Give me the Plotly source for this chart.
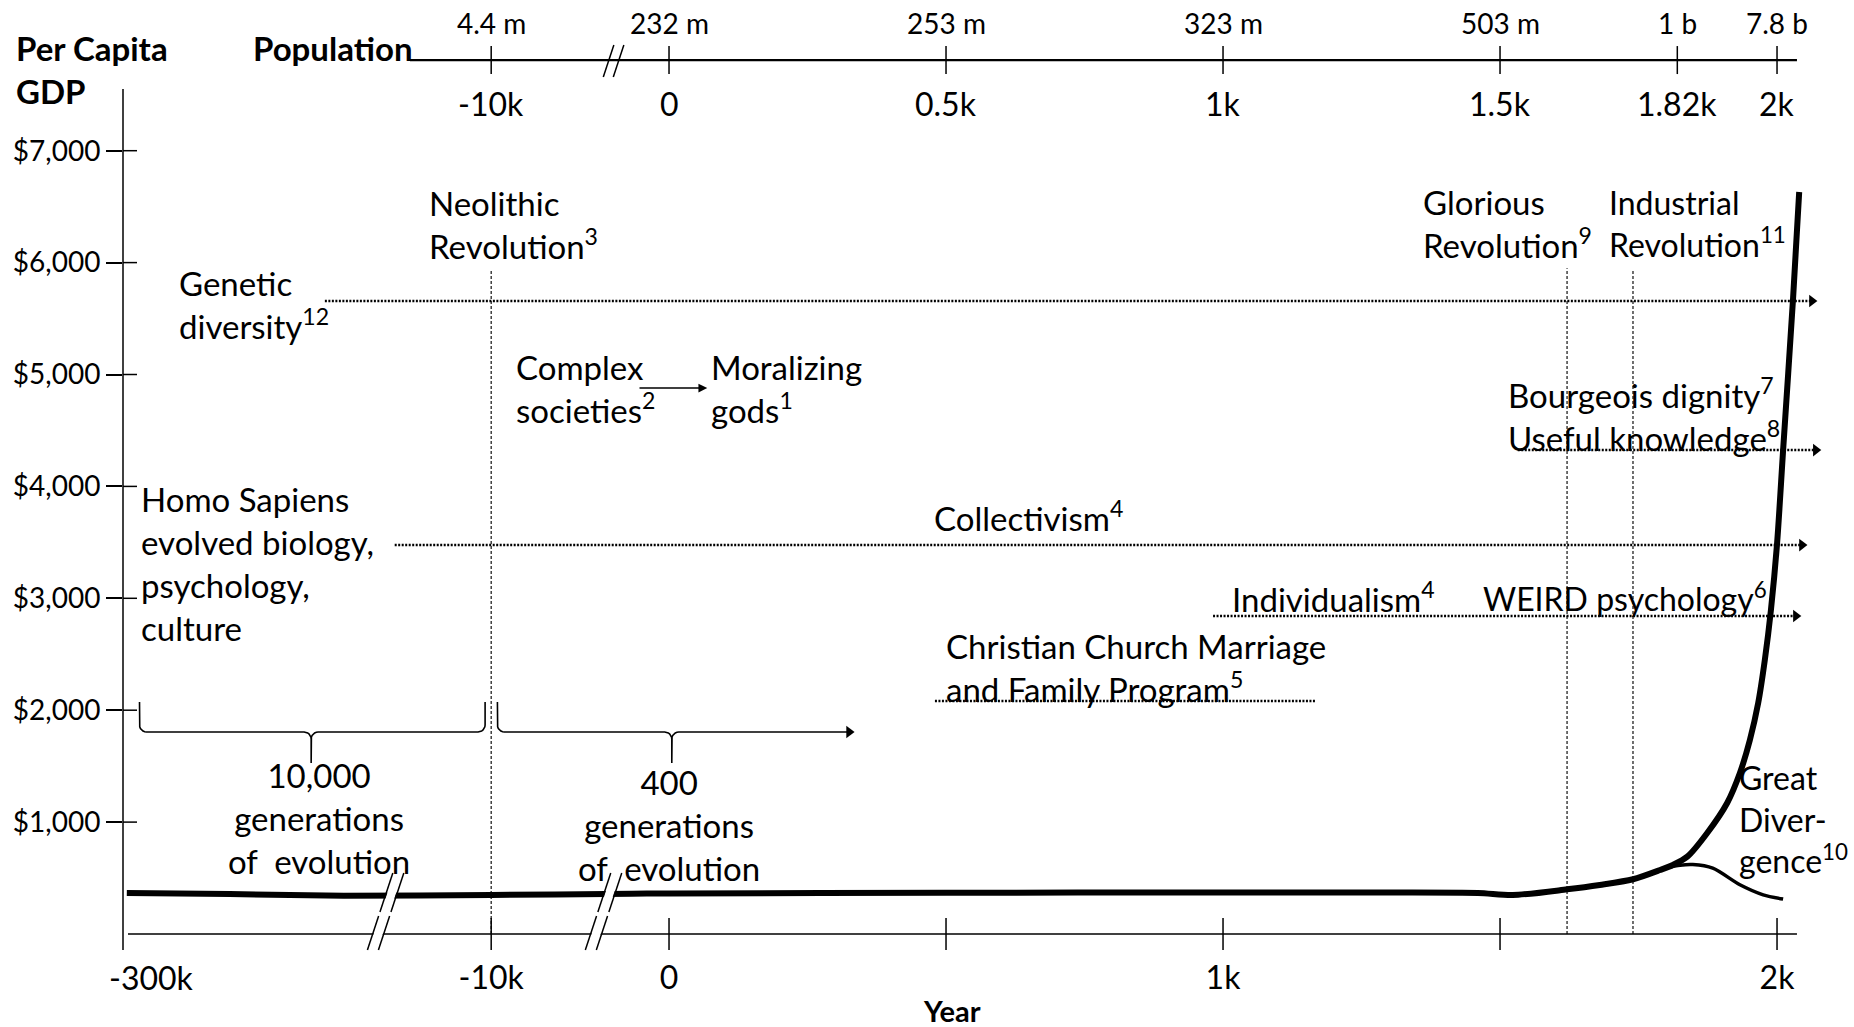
import math
import plotly.graph_objects as go

# ---------------- data ----------------
# Per-capita GDP (USD) along the timeline (year; negative = years BCE)
gdp_years = [-297000, -216000, -126000, -10000, -2100, 0, 500, 1000, 1300, 1460,
             1523, 1621, 1680, 1740, 1789, 1812, 1838, 1874, 1910, 1933,
             1951, 1966, 1978, 1989, 2000, 2011, 2029, 2040]
gdp_values = [366, 357, 342, 349, 360, 362, 369, 370, 370, 366,
              348, 399, 438, 489, 572, 617, 691, 903, 1171, 1439,
              1734, 2064, 2449, 2895, 3485, 4325, 5684, 6631]

# "Great Divergence" branch (rest of the world)
divergence_years = [1800, 1825, 1848, 1884, 1933, 1975, 2011]
divergence_values = [594, 615, 620, 588, 440, 350, 312]

# vertical event markers (as drawn)
event_names = ["Neolithic Revolution", "Glorious Revolution", "Industrial Revolution"]
event_years = [-10000, 1621, 1740]
event_tops = [5934, 5950, 5930]

# dotted trend arrows
trend_names = ["Genetic diversity", "Useful knowledge", "Collectivism",
               "Individualism / WEIRD", "Church marriage program"]
trend_start = [-141000, 1532, -86000, 982, 480]
trend_end = [2072, 2079, 2054, 2043, 1168]
trend_level = [5657, 4325, 3476, 2842, 2082]
trend_arrow = [True, True, True, True, False]

# generation braces: (left, centre, right) years
brace_spans = [(-287000, -151800, -14800), (-9650, 5, 334)]
brace_level = 1805

# axes
gdp_ticks = [1000, 2000, 3000, 4000, 5000, 6000, 7000]
gdp_tick_labels = ["$1,000", "$2,000", "$3,000", "$4,000", "$5,000", "$6,000", "$7,000"]

bottom_tick_years = [-10000, 0, 500, 1000, 1500, 2000]
bottom_label_years = [-10000, 0, 1000, 2000]
bottom_labels = ["-10k", "0", "1k", "2k"]
first_label_year = -300000
first_label = "-300k"

top_tick_years = [-10000, 0, 500, 1000, 1500, 1820, 2000]
top_year_labels = ["-10k", "0", "0.5k", "1k", "1.5k", "1.82k", "2k"]
population_labels = ["4.4 m", "232 m", "253 m", "323 m", "503 m", "1 b", "7.8 b"]

axis_break_years = [-99000, -4100]
top_break_year = -3100

# ---------------- broken time scale ----------------
NEO_W = 321.0     # display width of -10k .. 0
DEEP_W = 664.6    # display width of -300k .. -10k


def T(year):
    if year >= 0:
        return float(year)
    if year >= -10000:
        return year / 10000.0 * NEO_W
    return -NEO_W + (year + 10000) / 290000.0 * DEEP_W


# ---------------- layout geometry ----------------
W, H = 1854, 1027
ML, MR, MT, MB = 123, 8, 4, 75
X_RANGE = [T(-300000), 2124.5]
Y_RANGE = [-160.9, 8311.0]
PXU = (X_RANGE[1] - X_RANGE[0]) / (W - ML - MR)   # display units per pixel
PXY = (Y_RANGE[1] - Y_RANGE[0]) / (H - MT - MB)   # dollars per pixel

INK = "#000000"
FONT = "Lato, 'Open Sans', sans-serif"
TXT = 33

fig = go.Figure()

# vertical event lines
for yr, top in zip(event_years, event_tops):
    fig.add_trace(go.Scatter(x=[T(yr), T(yr)], y=[0, top], mode="lines",
                             line=dict(color="#222", width=1.3, dash="3px,2px"),
                             hoverinfo="skip", showlegend=False, cliponaxis=False))

# dotted trend arrows
head_x, head_y = [], []
for s, e, lv, arr in zip(trend_start, trend_end, trend_level, trend_arrow):
    xe = T(e) - (6 * PXU if arr else 0)
    fig.add_trace(go.Scatter(x=[T(s), xe], y=[lv, lv], mode="lines",
                             line=dict(color=INK, width=2.6, dash="2px,1.5px"),
                             hoverinfo="skip", showlegend=False, cliponaxis=False))
    if arr:
        head_x.append(T(e) - 5 * PXU)
        head_y.append(lv)


# braces
def brace(xl, xc, xr, yh, hook_right=True):
    rx, ry = 7 * PXU, 7 * PXY
    ytop = yh + 30 * PXY
    ytip = yh - 31 * PXY
    xs, ys = [xl], [ytop]
    for k in range(7):
        t = math.radians(k * 15)
        xs.append(xl + rx - rx * math.cos(t)); ys.append(yh + ry - ry * math.sin(t))
    for k in range(7):
        t = math.radians(k * 15)
        xs.append(xc - rx + rx * math.sin(t)); ys.append(yh - ry + ry * math.cos(t))
    xs.append(xc); ys.append(ytip)
    for k in range(7):
        t = math.radians(k * 15)
        xs.append(xc + rx - rx * math.cos(t)); ys.append(yh - ry + ry * math.sin(t))
    if hook_right:
        for k in range(7):
            t = math.radians(k * 15)
            xs.append(xr - rx + rx * math.sin(t)); ys.append(yh + ry - ry * math.cos(t))
        xs.append(xr); ys.append(ytop)
    else:
        xs.append(xr - 6 * PXU); ys.append(yh)
    return xs, ys


for i, (l, c, r) in enumerate(brace_spans):
    hook = i == 0
    bx, by = brace(T(l), T(c), T(r), brace_level, hook_right=hook)
    fig.add_trace(go.Scatter(x=bx, y=by, mode="lines", line=dict(color=INK, width=1.6),
                             hoverinfo="skip", showlegend=False, cliponaxis=False))
    if not hook:
        head_x.append(T(r) - 5 * PXU)
        head_y.append(brace_level)

# GDP curves
fig.add_trace(go.Scatter(x=[T(y) for y in divergence_years], y=divergence_values,
                         mode="lines", line=dict(color=INK, width=3.5, shape="spline", smoothing=0.8),
                         hoverinfo="skip", showlegend=False, cliponaxis=False))
fig.add_trace(go.Scatter(x=[T(y) for y in gdp_years], y=gdp_values,
                         mode="lines", line=dict(color=INK, width=6, shape="spline", smoothing=0.8),
                         hoverinfo="skip", showlegend=False, cliponaxis=False))

# arrowheads
fig.add_trace(go.Scatter(x=head_x, y=head_y, mode="markers",
                         marker=dict(symbol="triangle-right", size=11, color=INK, line=dict(width=0)),
                         hoverinfo="skip", showlegend=False, cliponaxis=False))

# ---------------- shapes: axes furniture ----------------
shapes = []


def seg(x0, y0, x1, y1, w=1.5, xref="x", yref="y", color=INK, layer="above"):
    shapes.append(dict(type="line", x0=x0, y0=y0, x1=x1, y1=y1, xref=xref, yref=yref,
                       line=dict(color=color, width=w), layer=layer))


# y axis line and crossing ticks
seg(0, -16 * PXY, 0, 7551, w=1.5, xref="paper")
for v in gdp_ticks:
    seg(0, v, 14 / (W - ML - MR), v, w=1.5, xref="paper")

# bottom axis
seg(T(-300000) + 5 * PXU, 0, 2036, 0, w=1.5)
for yr in bottom_tick_years:
    seg(T(yr), -16 * PXY, T(yr), 16 * PXY, w=1.5)

SLANT = 0.33


def sx(uc, off, yv, yref_val):
    return uc + off * PXU + SLANT * (yv - yref_val) / PXY * PXU


def white_gap(uc, yref_val, ya, yb, half):
    pts = [(sx(uc, -half, ya, yref_val), ya), (sx(uc, half, ya, yref_val), ya),
           (sx(uc, half, yb, yref_val), yb), (sx(uc, -half, yb, yref_val), yb)]
    path = "M " + " L ".join(f"{x:.3f},{y:.3f}" for x, y in pts) + " Z"
    shapes.append(dict(type="path", path=path, xref="x", yref="y",
                       fillcolor="white", line=dict(width=0), layer="above"))


for by in axis_break_years:
    uc = T(by)
    white_gap(uc, 0, -4 * PXY, 4 * PXY, 4.6)
    white_gap(uc, 0, 30 * PXY, 50 * PXY, 4.4)
    for off in (-5.5, 5.5):
        ya, yb = -16 * PXY, 18 * PXY
        seg(sx(uc, off, ya, 0), ya, sx(uc, off, yb, 0), yb, w=1.5)
        ya, yb = 22 * PXY, 61 * PXY
        seg(sx(uc, off, ya, 0), ya, sx(uc, off, yb, 0), yb, w=1.5)

# top (population) axis
TOP_Y = 7810
seg(T(-74000), TOP_Y, 2036, TOP_Y, w=2.2)
for yr in top_tick_years:
    seg(T(yr), TOP_Y - 14 * PXY, T(yr), TOP_Y + 14 * PXY, w=1.5)
uc = T(top_break_year)
for off in (-5, 5):
    ya, yb = TOP_Y - 17 * PXY, TOP_Y + 15 * PXY
    seg(sx(uc, off, ya, TOP_Y), ya, sx(uc, off, yb, TOP_Y), yb, w=1.5)

# ---------------- annotations ----------------
ann = []


def label(text, x, y, xanchor="left", align="left", size=TXT, xref="x", yref="y", **kw):
    d = dict(text=text, x=x, y=y, xref=xref, yref=yref, xanchor=xanchor, yanchor="middle",
             align=align, showarrow=False, font=dict(family=FONT, size=size, color=INK))
    if xanchor == "left":
        d["xshift"] = -3
    d.update(kw)
    ann.append(d)


label("Neolithic<br>Revolution<sup>3</sup>", -431, 6341)
label("Genetic<br>diversity<sup>12</sup>", -883, 5630)
label("Complex<br>societies<sup>2</sup>", -274, 4875)
label("Moralizing<br>gods<sup>1</sup>", 78, 4875)
label("Glorious<br>Revolution<sup>9</sup>", 1363, 6350)
label("Industrial<br>Revolution<sup>11</sup>", 1702, 6350, size=32, xshift=-5)
label("Bourgeois dignity<sup>7</sup><br>Useful knowledge<sup>8</sup>", 1516, 4647)
label("Homo Sapiens<br>evolved biology,<br>psychology,<br>culture", -951, 3315)
label("Collectivism<sup>4</sup>", 480, 3735)
label("Individualism<sup>4</sup>", 1018, 3012)
label("WEIRD psychology<sup>6</sup>", 1471, 3012, size=32)
label("Christian Church Marriage<br>and Family Program<sup>5</sup>", 502, 2386)
label("10,000<br>generations<br>of\u00a0 evolution", -632, 1037, xanchor="center", align="center")
label("400<br>generations<br>of\u00a0 evolution", 0, 974, xanchor="center", align="center")
label("Great<br>Diver-<br>gence<sup>10</sup>", 1937, 1028, size=32, xshift=-5)
label("<b>Population</b>", -749, 7918)
label("<b>Per Capita</b><br><b>GDP</b>", -106 / (W - ML - MR), 7730, xref="paper")
label("<b>Year</b>", 511, -58 / (H - MT - MB), xanchor="center", yref="paper", size=29)
label(first_label, T(first_label_year), -25 / (H - MT - MB), xanchor="center",
      yref="paper", size=32, xshift=28)

for yr, pl, yl in zip(top_tick_years, population_labels, top_year_labels):
    label(pl, T(yr), 8140, xanchor="center", align="center", size=28)
    label(yl, T(yr), 7426, xanchor="center", align="center", size=32)

# complex societies -> moralizing gods arrow
ann.append(dict(x=69, y=4879, ax=-56, ay=4879, xref="x", yref="y", axref="x", ayref="y",
                text="", showarrow=True, arrowhead=2, arrowsize=1.1, arrowwidth=1.6,
                arrowcolor=INK, standoff=0, startstandoff=0))

fig.update_layout(
    width=W, height=H,
    margin=dict(l=ML, r=MR, t=MT, b=MB, pad=0, autoexpand=False),
    paper_bgcolor="white", plot_bgcolor="white",
    font=dict(family=FONT, color=INK),
    shapes=shapes, annotations=ann, showlegend=False,
    xaxis=dict(range=X_RANGE, showgrid=False, zeroline=False, showline=False, automargin=False,
               tickmode="array", tickvals=[T(y) for y in bottom_label_years], ticktext=bottom_labels,
               ticks="", tickfont=dict(family=FONT, size=32, color=INK), ticklabelstandoff=4,
               fixedrange=True),
    yaxis=dict(range=Y_RANGE, showgrid=False, zeroline=False, showline=False, automargin=False,
               tickmode="array", tickvals=gdp_ticks, ticktext=gdp_tick_labels,
               ticks="outside", ticklen=16, tickwidth=1.5, tickcolor=INK,
               tickfont=dict(family=FONT, size=28, color=INK), fixedrange=True),
)

fig.write_html("out.html", config={"displayModeBar": False},
               post_script="document.body.style.margin='0';document.body.style.overflow='hidden';")
